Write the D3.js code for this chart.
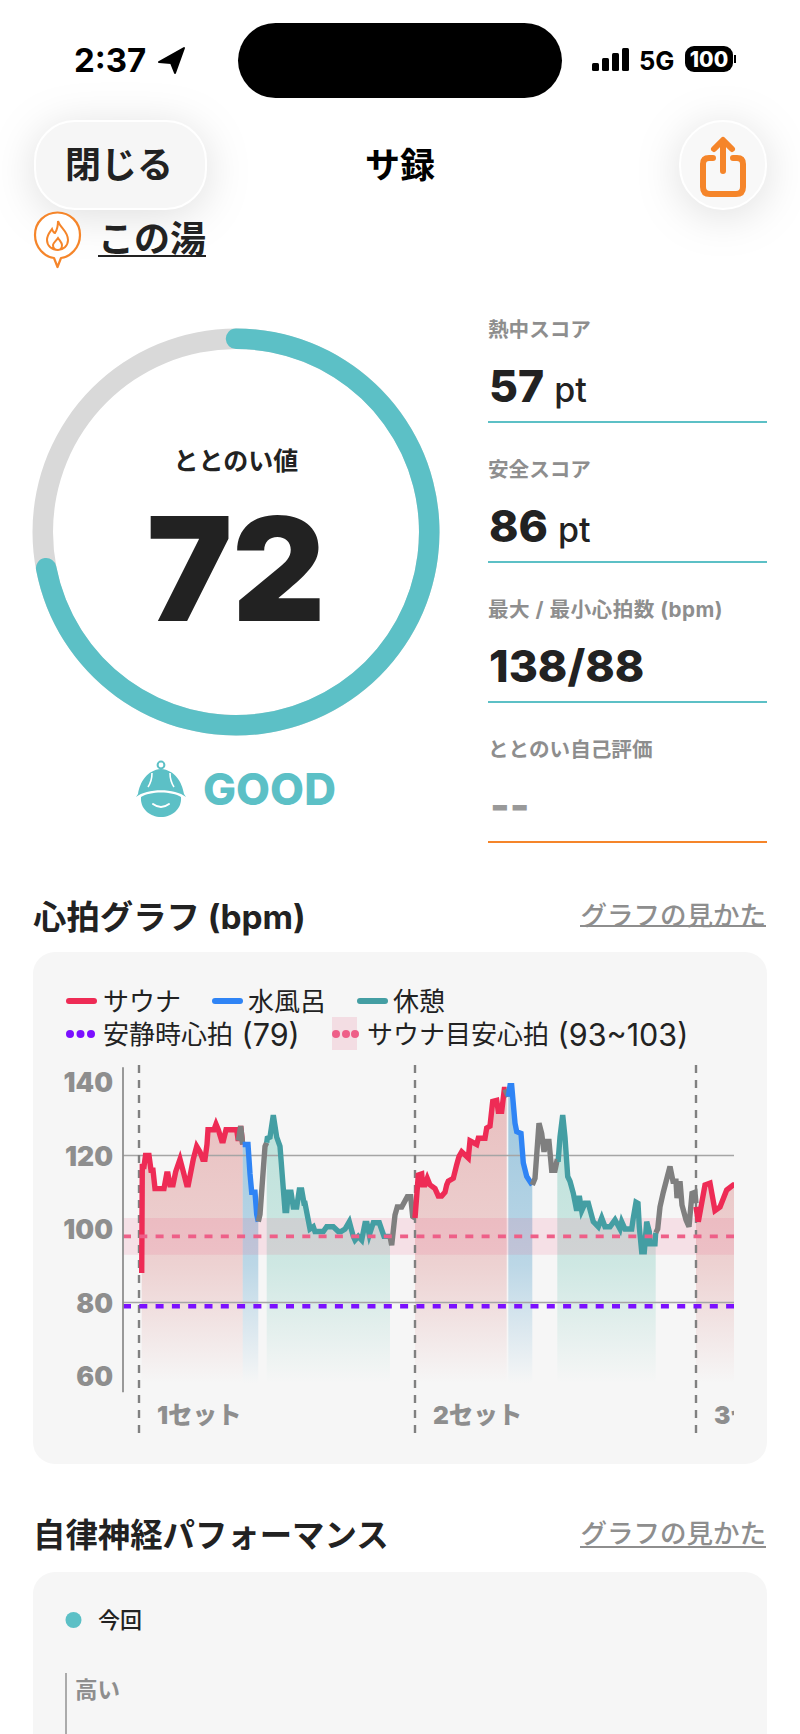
<!DOCTYPE html>
<html lang="ja">
<head>
<meta charset="utf-8">
<style>
  html, body { margin: 0; padding: 0; background: #fff; }
  svg { display: block; }
  text { font-family: Inter, "Noto Sans CJK JP", sans-serif; }
</style>
<script src="https://cdn.jsdelivr.net/npm/d3@7"></script>
</head>
<body>
<script>
// gauge + side scores
const gaugeValue = 72
const gaugeMax = 100
const scores = [
  {label: "熱中スコア", value: "57", unit: "pt"},
  {label: "安全スコア", value: "86", unit: "pt"},
  {label: "最大 / 最小心拍数 (bpm)", value: "138/88", unit: ""},
  {label: "ととのい自己評価", value: "--", unit: ""}
]

// heart rate, [time, bpm], one list per phase
const sauna1 = [[2.7,88],[3.3,117],[5,117],[6.5,120],[10,120],[12,116],[14,116],[16,111],[25,111],[27.7,115],[29,115],[31,112],[34,112],[36.7,115.6],[41,119],[44.3,115.6],[47.7,112],[49.3,112],[54.3,119],[57.7,122.5],[61,121],[63.7,119],[66,119],[68,123],[69,127],[75,127],[77,128.5],[79.3,127],[82.7,124],[84.3,124],[87,127],[97.7,127],[99.3,124],[101.7,128],[103.7,123]]
const gap1 = [[99.3,124],[101.7,128],[103.7,123]]
const cold1 = [[103.7,123],[109,123],[111,115],[112.7,110],[116,110],[117.7,104],[119.3,102]]
const gap2 = [[119.3,102],[121,104],[126,122.5],[127.7,123.5]]
const rest1 = [[127.7,123.5],[128.3,124.7],[131,125],[134.3,131],[137.7,125],[141,122.5],[146,105],[147.7,105],[149.3,110],[152,110],[154.3,106],[157.7,106],[160.3,110.6],[162.7,110.6],[165,107],[166,107],[171,100],[174.3,100.6],[176,99.3],[184.3,99.3],[187.7,100.6],[194.3,100.6],[199.3,99.3],[202,99.3],[206,100],[210.3,102],[214.3,98],[216,97],[219.3,98],[222.7,97],[226,101.5],[228,101.5],[230.3,98.4],[234.3,101.7],[240.3,101.7],[245,98],[251,98]]
const gap3 = [[251,98],[252.7,95.6],[256,103.8],[258.3,106],[262.7,106],[268.3,108.8],[271.7,108.8],[273.7,103.4],[276,103]]
const sauna2 = [[276,103],[277,106.5],[279.3,114.7],[282.7,115],[283.7,112],[286,112],[288.3,113.8],[291,112],[296,111],[299.3,109],[302.7,109],[306,110],[307.7,112],[309.3,113],[314.3,113.8],[317.7,117.5],[320,119.7],[322.7,121],[329.3,119.3],[331,124],[337.7,123],[339.3,124.7],[346,124.7],[347.7,127.5],[351,128],[353.7,134.7],[357.7,135],[359.3,132],[362.7,132],[365.3,138],[367.7,138]]
const gap4 = [[366,138],[369.3,136]]
const cold2 = [[369.3,136],[371,139],[372.7,139],[376,128.8],[377.7,126.5],[382,126],[384.3,118],[387.7,114.3],[393.3,112]]
const gap5 = [[393.3,112],[396,113.8],[400,128.8],[402.7,126],[405,121],[407,123.8],[410,123.8],[412.7,116],[416,116],[418.3,119]]
const rest2 = [[418.3,119],[419.3,119],[421,125],[423.7,131],[426,125],[428.7,114.3],[431,113],[434.3,109.7],[437.7,105],[440.3,109],[442.7,105],[446,107],[449.3,107],[454.3,102],[459.3,100.6],[462.7,103],[466,100.6],[471,100.6],[476,102.5],[481,100],[482.7,102],[486,100],[492.7,100],[494.3,103],[497,107.3],[499,107],[500.3,100.6],[502.7,93.8],[505.3,93.8],[507.7,102],[510.3,99.3],[511,96],[516,96],[516.7,99]]
const gap6 = [[516.7,99],[518.7,100],[521,106],[524.3,110],[531,117],[534,113],[537,113],[538,108.4],[541,113],[543,106.5],[547,102.5],[550,100.6],[553,109.7],[556,110],[557,107]]
const sauna3 = [[557,106],[559.3,102],[566,112],[571,112.5],[576,105],[581,106],[587.7,110.6],[594.3,112],[595,112]]

const phases = [
  {kind: "sauna", pts: sauna1}, {kind: "gap", pts: gap1}, {kind: "cold", pts: cold1},
  {kind: "gap", pts: gap2}, {kind: "rest", pts: rest1}, {kind: "gap", pts: gap3},
  {kind: "sauna", pts: sauna2}, {kind: "gap", pts: gap4}, {kind: "cold", pts: cold2},
  {kind: "gap", pts: gap5}, {kind: "rest", pts: rest2}, {kind: "gap", pts: gap6},
  {kind: "sauna", pts: sauna3}
]

const yTicks = [60, 80, 100, 120, 140]
const gridValues = [80, 120]
const restingHr = 79
const targetHr = [93, 103]
const targetLine = 98
const setStarts = [0, 276, 557]
const setNames = ["1セット", "2セット", "3セット"]

const teal = "#5cc0c6"
const orange = "#f5852a"
const ink = "#222222"
const grey = "#8e8e8e"
const lineColor = {sauna: "#ee2b55", cold: "#2f84f5", rest: "#449ea3", gap: "#7f7f7f"}
const fillColor = {sauna: "#c83c3c", cold: "#2f8cc0", rest: "#38b09a"}
const fillOpacity = {sauna: 0.28, cold: 0.42, rest: 0.3}

const svg = d3.select("body").append("svg")
  .attr("width", 800)
  .attr("height", 1734)

const label = function(parent, str, x, y, size, weight, fill, anchor) {
  return parent.append("text")
    .attr("x", x)
    .attr("y", y)
    .attr("dominant-baseline", "central")
    .attr("text-anchor", anchor || "start")
    .attr("font-size", size)
    .attr("font-weight", weight)
    .attr("fill", fill)
    .text(str)
}

// status bar + header
const drawHeader = function() {
  svg.append("rect").attr("x", 238).attr("y", 23).attr("width", 324).attr("height", 75).attr("rx", 37.5).attr("fill", "#000")
  label(svg, "2:37", 74, 60, 33, 700, "#000")
  svg.append("path").attr("d", "M159 62 L184 48 L175 73 L171 63 Z").attr("fill", "#000").attr("stroke", "#000").attr("stroke-width", 2).attr("stroke-linejoin", "round")
  const bars = [8, 13, 18, 23]
  bars.forEach((h, i) => {
    svg.append("rect").attr("x", 592 + i * 10).attr("y", 71 - h).attr("width", 7).attr("height", h).attr("rx", 1.5).attr("fill", "#000")
  })
  label(svg, "5G", 639, 60, 25.5, 700, "#000")
  svg.append("rect").attr("x", 685).attr("y", 46).attr("width", 48).attr("height", 26).attr("rx", 9).attr("fill", "#000")
  svg.append("rect").attr("x", 734).attr("y", 55).attr("width", 2).attr("height", 8).attr("fill", "#000")
  label(svg, "100", 709, 59.5, 21, 800, "#fff", "middle")

  const shadow = "drop-shadow(0 6px 22px rgba(0,0,0,0.13))"
  svg.append("rect").attr("x", 35).attr("y", 121).attr("width", 171).attr("height", 88).attr("rx", 40)
    .attr("fill", "#f6f6f6").attr("stroke", "#fff").attr("stroke-width", 2).style("filter", shadow)
  label(svg, "閉じる", 119, 165, 36, 600, ink, "middle")
  label(svg, "サ録", 400, 165, 35, 700, "#000", "middle")

  svg.append("rect").attr("x", 680).attr("y", 121).attr("width", 86).attr("height", 88).attr("rx", 43)
    .attr("fill", "#f8f8f8").attr("stroke", "#fff").attr("stroke-width", 2).style("filter", shadow)
  svg.append("path")
    .attr("d", "M713 158 H709 Q703 158 703 164 V187 Q703 194 710 194 H736 Q743 194 743 187 V164 Q743 158 737 158 H733 M723 171 V141 M714 149 L723 140 L732 149")
    .attr("fill", "none").attr("stroke", orange).attr("stroke-width", 6).attr("stroke-linecap", "round").attr("stroke-linejoin", "round")

  // この湯 marker
  svg.append("path")
    .attr("d", "M57.5 212.5 C45 212.5 35 222 35 235 C35 248 45 257 54 258 L57.5 267 L61 258 C70 257 80 248 80 235 C80 222 70 212.5 57.5 212.5 Z")
    .attr("fill", "#fff").attr("stroke", orange).attr("stroke-width", 2.2).attr("stroke-linejoin", "round")
  svg.append("path")
    .attr("d", "M58 221 C60 228 68 231 68 240 C68 246 63 250 58 250 C52 250 47 246 47 240 C47 235 50 232 52 229 C53 232 54 233 55 233 C57 230 58 226 58 221 Z M58 238 C60 241 62 243 62 245 C62 248 60 250 58 250 C55 250 53 248 53 245 C53 243 56 241 58 238 Z")
    .attr("fill", "none").attr("stroke", orange).attr("stroke-width", 2)
  label(svg, "この湯", 98, 239, 36, 700, ink)
  svg.append("line").attr("x1", 98).attr("x2", 206).attr("y1", 256).attr("y2", 256).attr("stroke", ink).attr("stroke-width", 2.2)
}

// ring on the left
const drawGauge = function() {
  const g = svg.append("g").attr("transform", "translate(236,532)")
  const angle = d3.scaleLinear().domain([0, gaugeMax]).range([0, 2 * Math.PI])
  const arc = d3.arc().innerRadius(183).outerRadius(203.5).cornerRadius(10.2)
  // round ends sit outside the value range
  const cap = 10.2 / 193
  g.append("path").attr("d", arc({startAngle: 0, endAngle: angle(gaugeMax)})).attr("fill", "#d9d9d9")
  g.append("path").attr("d", arc({startAngle: angle(0) - cap, endAngle: angle(gaugeValue) + cap})).attr("fill", teal)

  label(svg, "ととのい値", 236, 461, 25, 700, ink, "middle")
  label(svg, String(gaugeValue), 236, 568, 144, 900, ink, "middle")

  // sauna hat face
  const hat = svg.append("g").attr("fill", teal)
  hat.append("circle").attr("cx", 161).attr("cy", 765).attr("r", 3.4).attr("fill", "none").attr("stroke", teal).attr("stroke-width", 2)
  hat.append("path").attr("d", "M161 769 C147 770 140 782 138 794 L136 797 C147 788 175 788 186 797 L184 794 C182 782 175 770 161 769 Z")
  hat.append("path").attr("d", "M141 797 C150 791 172 791 181 797 C182 809 172 817 161 817 C150 817 140 809 141 797 Z")
  hat.append("path").attr("d", "M153 804 Q161 810 169 804").attr("fill", "none").attr("stroke", "#fff").attr("stroke-width", 2).attr("stroke-linecap", "round")
  hat.append("path").attr("d", "M152 773 Q152 781 148 787 M170 773 Q170 781 174 787").attr("fill", "none").attr("stroke", "#fff").attr("stroke-width", 1.6)
  label(svg, "GOOD", 203, 789, 44, 800, teal)
}

// four score rows on the right
const drawScores = function() {
  const rowY = d3.scalePoint().domain(d3.range(scores.length)).range([329, 749])
  scores.forEach((d, i) => {
    const y = rowY(i)
    const head = label(svg, d.label, 488, y, 20.6, 700, grey)
    if (i === 2) head.attr("letter-spacing", 0.5)
    svg.append("line").attr("x1", 488).attr("x2", 767).attr("y1", y + 93).attr("y2", y + 93)
      .attr("stroke", i === scores.length - 1 ? orange : teal).attr("stroke-width", 2)
    if (d.value === "--") {
      label(svg, d.value, 490, y + 55, 42, 800, "#999")
      return
    }
    const v = svg.append("text").attr("x", 489).attr("y", y + 73).attr("font-size", 44.5).attr("font-weight", 800).attr("fill", ink).text(d.value)
    if (d.unit) {
      v.append("tspan").attr("dx", 10).attr("font-size", 34).attr("font-weight", 500).text(d.unit)
    }
  })
}

const drawSectionHead = function(title, size, y, lineY) {
  label(svg, title, 33, y, size, 700, ink)
  label(svg, "グラフの見かた", 766, y - 2, 26.5, 500, grey, "end")
  svg.append("line").attr("x1", 580).attr("x2", 766).attr("y1", lineY).attr("y2", lineY).attr("stroke", grey).attr("stroke-width", 2)
}

// legend text with the wider latin part
const mixedLabel = function(kana, latin, x, y) {
  const t = label(svg, kana, x, y, 26, 400, ink)
  t.append("tspan").attr("font-size", 30.5).text(" " + latin)
}

// heart rate chart
const drawHeartChart = function() {
  drawSectionHead("心拍グラフ (bpm)", 33.4, 917, 926)
  svg.append("rect").attr("x", 33).attr("y", 952).attr("width", 734).attr("height", 512).attr("rx", 22).attr("fill", "#f6f6f6")

  // legend
  const swatches = [
    {color: lineColor.sauna, x: 66, text: "サウナ", tx: 103},
    {color: lineColor.cold, x: 212, text: "水風呂", tx: 248},
    {color: lineColor.rest, x: 357, text: "休憩", tx: 393}
  ]
  swatches.forEach(d => {
    svg.append("line").attr("x1", d.x + 3).attr("x2", d.x + 28).attr("y1", 1001).attr("y2", 1001)
      .attr("stroke", d.color).attr("stroke-width", 6).attr("stroke-linecap", "round")
    label(svg, d.text, d.tx, 1001, 26, 400, ink)
  })
  svg.append("rect").attr("x", 332).attr("y", 1017).attr("width", 25).attr("height", 33).attr("fill", "#f3dde3")
  const dotRows = [{color: "#7b10ff", x: [70, 80.5, 91]}, {color: "#ee5f88", x: [336, 346, 355]}]
  dotRows.forEach(r => r.x.forEach(x => {
    svg.append("circle").attr("cx", x).attr("cy", 1034).attr("r", 4).attr("fill", r.color)
  }))
  mixedLabel("安静時心拍", "(79)", 103, 1034)
  mixedLabel("サウナ目安心拍", "(93~103)", 367, 1034)

  const x = d3.scaleLinear().domain([-16, 595]).range([123, 734])
  const y = d3.scaleLinear().domain([60, 140]).range([1376, 1082])

  const defs = svg.append("defs")
  defs.append("clipPath").attr("id", "plot").append("rect")
    .attr("x", 123).attr("y", 1050).attr("width", 611).attr("height", 400)
  Object.keys(fillColor).forEach(k => {
    const grad = defs.append("linearGradient").attr("id", "fade-" + k)
      .attr("gradientUnits", "userSpaceOnUse")
      .attr("x1", 0).attr("x2", 0).attr("y1", y(130)).attr("y2", y(58))
    grad.append("stop").attr("offset", 0).attr("stop-color", fillColor[k]).attr("stop-opacity", fillOpacity[k])
    grad.append("stop").attr("offset", 0.55).attr("stop-color", fillColor[k]).attr("stop-opacity", fillOpacity[k] * 0.7)
    grad.append("stop").attr("offset", 1).attr("stop-color", fillColor[k]).attr("stop-opacity", 0)
  })

  const plot = svg.append("g").attr("clip-path", "url(#plot)")

  const area = d3.area().x(d => x(d[0])).y0(y(58)).y1(d => y(d[1]))
  const line = d3.line().x(d => x(d[0])).y(d => y(d[1]))

  plot.selectAll("path.fill")
    .data(phases.filter(d => d.kind !== "gap"))
    .enter()
    .append("path")
    .attr("class", "fill")
    .attr("d", d => area(d.pts))
    .attr("fill", d => "url(#fade-" + d.kind + ")")

  plot.append("rect")
    .attr("x", x(-16)).attr("width", x(595) - x(-16))
    .attr("y", y(targetHr[1])).attr("height", y(targetHr[0]) - y(targetHr[1]))
    .attr("fill", "#ee4a78").attr("opacity", 0.13)

  gridValues.forEach(v => {
    plot.append("line").attr("x1", x(-16)).attr("x2", x(595)).attr("y1", y(v)).attr("y2", y(v))
      .attr("stroke", "#a5a5a5").attr("stroke-width", 1.6)
  })

  plot.selectAll("line.set")
    .data(setStarts)
    .enter()
    .append("line")
    .attr("class", "set")
    .attr("x1", d => x(d)).attr("x2", d => x(d))
    .attr("y1", y(144.6)).attr("y2", y(44))
    .attr("stroke", "#808080").attr("stroke-width", 2.4).attr("stroke-dasharray", "8 7")

  plot.selectAll("path.hr")
    .data(phases)
    .enter()
    .append("path")
    .attr("class", "hr")
    .attr("d", d => line(d.pts))
    .attr("fill", "none")
    .attr("stroke", d => lineColor[d.kind])
    .attr("stroke-width", 5.4)
    .attr("stroke-linejoin", "miter")

  plot.append("line").attr("x1", x(-16)).attr("x2", x(595)).attr("y1", y(targetLine)).attr("y2", y(targetLine))
    .attr("stroke", "#ee5f88").attr("stroke-width", 3.6).attr("stroke-dasharray", "8 8.3")
  plot.append("line").attr("x1", x(-16)).attr("x2", x(595)).attr("y1", y(restingHr)).attr("y2", y(restingHr))
    .attr("stroke", "#7b10ff").attr("stroke-width", 4.4).attr("stroke-dasharray", "8 8.3")

  plot.selectAll("text.setname")
    .data(setNames)
    .enter()
    .append("text")
    .attr("class", "setname")
    .attr("x", (d, i) => x(setStarts[i]) + 18)
    .attr("y", y(44) - 20)
    .attr("dominant-baseline", "central")
    .attr("font-size", 24.5)
    .attr("font-weight", 900)
    .attr("fill", grey)
    .text(d => d)

  // axis line runs past the ticks, so it is drawn apart from the axis
  svg.append("line").attr("x1", x(-16)).attr("x2", x(-16)).attr("y1", y(144)).attr("y2", y(55.6))
    .attr("stroke", "#8f8f8f").attr("stroke-width", 1.8)
  const axis = svg.append("g")
    .attr("transform", "translate(" + x(-16) + ",1.5)")
    .call(d3.axisLeft(y).tickValues(yTicks).tickSize(0).tickPadding(10))
  axis.select(".domain").remove()
  axis.selectAll("text")
    .attr("font-size", 26.5)
    .attr("font-weight", 900)
    .attr("fill", grey)
    .style("font-family", "Inter")
}

// second section, cut off by the screen edge
const drawAutonomic = function() {
  drawSectionHead("自律神経パフォーマンス", 32.4, 1535, 1547)
  svg.append("rect").attr("x", 33).attr("y", 1572).attr("width", 734).attr("height", 200).attr("rx", 22).attr("fill", "#f6f6f6")
  svg.append("circle").attr("cx", 73.5).attr("cy", 1620).attr("r", 8).attr("fill", teal)
  label(svg, "今回", 98, 1620, 22, 500, ink)
  svg.append("line").attr("x1", 66).attr("x2", 66).attr("y1", 1673).attr("y2", 1734).attr("stroke", "#999").attr("stroke-width", 1.6)
  label(svg, "高い", 75, 1689, 22.5, 700, grey)
}

drawHeader()
drawGauge()
drawScores()
drawHeartChart()
drawAutonomic()
</script>
</body>
</html>
